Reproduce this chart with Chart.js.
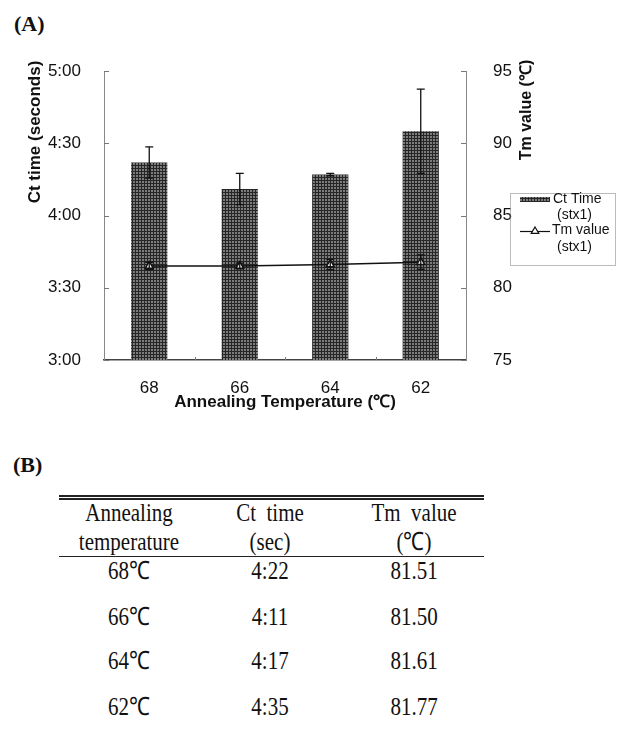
<!DOCTYPE html>
<html>
<head>
<meta charset="utf-8">
<script src="https://cdn.jsdelivr.net/npm/chart.js@4.4.1/dist/chart.umd.min.js"></script>
<style>
  body { margin: 0; background: #fff; width: 619px; height: 730px; position: relative; overflow: hidden; }
  .panel { position: absolute; font-family: "Liberation Serif", serif; font-weight: bold; font-size: 22px; color: #111; }
  #wrap { position: absolute; left: 0; top: 0; width: 619px; height: 420px; }
  .rule { position: absolute; left: 59px; width: 425px; background: #222; }
  .cell { position: absolute; font-family: "Liberation Serif", serif; font-size: 21px; color: #111;
          white-space: pre; line-height: 1; transform: translate(-50%, -50%) scaleY(1.2); }
</style>
</head>
<body>
<div class="panel" style="left:14px;top:11px">(A)</div>
<div id="wrap"><canvas id="c" width="619" height="420"></canvas></div>
<div class="panel" style="left:13px;top:452px">(B)</div>
<div id="table"></div>

<script>
// chart data
const temps = ["68", "66", "64", "62"];
const ctSeconds = [262, 251, 257, 275];
const ctErr = [6.5, 6.5, 0.5, 17.5];
const tmValues = [81.51, 81.50, 81.61, 81.77];
const tmErr = [0.25, 0.2, 0.35, 0.5];
const leftTicks = [180, 210, 240, 270, 300];
const rightTicks = [75, 80, 85, 90, 95];

// table text
const tableHead = [["Annealing", "temperature"], ["Ct  time", "(sec)"], ["Tm  value", "(℃)"]];
const tableTemps = ["68℃", "66℃", "64℃", "62℃"];

const mmss = s => Math.floor(s / 60) + ":" + String(Math.round(s % 60)).padStart(2, "0");
const SANS = "'Liberation Sans', Arial, sans-serif";

// table (B)
const tbl = document.getElementById("table");
const colX = [129, 270, 414];
const headY = [513, 542];
const rowY = [571, 617, 661, 707];
function cell(text, x, y) {
  const d = document.createElement("div");
  d.className = "cell";
  d.style.left = x + "px";
  d.style.top = y + "px";
  d.textContent = text;
  tbl.appendChild(d);
}
function rule(y, h) {
  const d = document.createElement("div");
  d.className = "rule";
  d.style.top = y + "px";
  d.style.height = h + "px";
  tbl.appendChild(d);
}
rule(494.5, 2);
rule(498, 1.5);
rule(555.5, 1);
tableHead.forEach((lines, c) => lines.forEach((t, r) => cell(t, colX[c], headY[r])));
tableTemps.forEach((t, i) => {
  cell(t, colX[0], rowY[i]);
  cell(mmss(ctSeconds[i]), colX[1], rowY[i]);
  cell(tmValues[i].toFixed(2), colX[2], rowY[i]);
});

// chart (A)
const ctx = document.getElementById("c").getContext("2d");

function barPattern() {
  const p = document.createElement("canvas");
  p.width = 3; p.height = 3;
  const g = p.getContext("2d");
  g.fillStyle = "#7c7c7c"; g.fillRect(0, 0, 3, 3);
  g.fillStyle = "#262626"; g.fillRect(0, 0, 3, 1); g.fillRect(0, 0, 1, 3);
  return ctx.createPattern(p, "repeat");
}
const pattern = barPattern();

const errorBars = {
  id: "errorBars",
  afterDatasetDraw(chart, args) {
    const ds = chart.data.datasets[args.index];
    if (!ds.errors) return;
    const yScale = chart.scales[ds.yAxisID];
    const c = chart.ctx;
    c.save();
    c.strokeStyle = "#111";
    c.lineWidth = 1.3;
    args.meta.data.forEach((el, j) => {
      const v = ds.data[j], e = ds.errors[j];
      const top = yScale.getPixelForValue(v + e);
      const bot = yScale.getPixelForValue(v - e);
      c.beginPath();
      c.moveTo(el.x, top); c.lineTo(el.x, bot);
      c.moveTo(el.x - 4, top); c.lineTo(el.x + 4, top);
      c.moveTo(el.x - 4, bot); c.lineTo(el.x + 4, bot);
      c.stroke();
    });
    c.restore();
  }
};

function triangle(c, x, y, r) {
  c.beginPath();
  c.moveTo(x, y - r);
  c.lineTo(x + r * 0.95, y + r * 0.6);
  c.lineTo(x - r * 0.95, y + r * 0.6);
  c.closePath();
  c.fill(); c.stroke();
}

const decorations = {
  id: "decorations",
  afterDraw(chart) {
    const { ctx: c, chartArea: a, scales } = chart;
    c.save();
    // small inward ticks
    c.strokeStyle = "#777";
    c.lineWidth = 1;
    c.beginPath();
    leftTicks.forEach(v => {
      const y = Math.round(scales.y.getPixelForValue(v)) + 0.5;
      c.moveTo(a.left, y); c.lineTo(a.left + 5, y);
    });
    rightTicks.forEach(v => {
      const y = Math.round(scales.y1.getPixelForValue(v)) + 0.5;
      c.moveTo(a.right - 5, y); c.lineTo(a.right, y);
    });
    for (let i = 1; i < temps.length; i++) {
      const x = Math.round((scales.x.getPixelForValue(i - 1) + scales.x.getPixelForValue(i)) / 2) + 0.5;
      c.moveTo(x, a.bottom); c.lineTo(x, a.bottom - 3);
    }
    c.stroke();

    // axis titles
    c.fillStyle = "#111";
    c.textAlign = "center";
    c.textBaseline = "middle";
    c.font = "bold 17px " + SANS;
    c.save(); c.translate(35, 132); c.rotate(-Math.PI / 2); c.fillText("Ct time (seconds)", 0, 0); c.restore();
    c.font = "bold 16px " + SANS;
    c.save(); c.translate(527, 110); c.rotate(-Math.PI / 2); c.fillText("Tm value (℃)", 0, 0); c.restore();

    // legend
    c.strokeStyle = "#777";
    c.setLineDash([1, 1]);
    c.strokeRect(510.5, 193.5, 105, 72);
    c.setLineDash([]);
    c.fillStyle = pattern;
    c.fillRect(520, 197, 30, 5);
    c.strokeStyle = "#111";
    c.lineWidth = 1.2;
    c.beginPath(); c.moveTo(520, 231.5); c.lineTo(550, 231.5); c.stroke();
    c.fillStyle = "#fff";
    triangle(c, 535, 231, 4);
    c.fillStyle = "#111";
    c.textAlign = "left";
    c.font = "14px " + SANS;
    c.fillText("Ct Time", 553, 199);
    c.fillText("(stx1)", 557, 215);
    c.fillText("Tm value", 552, 230);
    c.fillText("(stx1)", 557, 247);
    c.restore();
  }
};

new Chart(ctx, {
  data: {
    labels: temps,
    datasets: [
      {
        type: "line",
        label: "Tm value (stx1)",
        data: tmValues,
        errors: tmErr,
        yAxisID: "y1",
        order: 1,
        borderColor: "#111",
        borderWidth: 1.5,
        pointStyle: "triangle",
        pointRadius: 4.5,
        pointBackgroundColor: "#fff",
        pointBorderColor: "#111",
        pointBorderWidth: 1.5,
        tension: 0
      },
      {
        type: "bar",
        label: "Ct Time (stx1)",
        data: ctSeconds,
        errors: ctErr,
        yAxisID: "y",
        order: 2,
        backgroundColor: pattern,
        borderWidth: 0,
        categoryPercentage: 1,
        barPercentage: 0.4
      }
    ]
  },
  options: {
    responsive: false,
    animation: false,
    layout: { padding: { top: 71, right: 73, left: 0, bottom: 0 } },
    plugins: { legend: { display: false }, tooltip: { enabled: false } },
    scales: {
      x: {
        grid: { display: false },
        border: { color: "#444", width: 1.5 },
        ticks: { color: "#111", padding: 10, font: { family: SANS, size: 17 } },
        title: {
          display: true,
          text: "Annealing Temperature (℃)",
          color: "#111",
          padding: 7,
          font: { family: SANS, size: 17, weight: "bold" }
        },
        afterFit: s => { s.height = 60; }
      },
      y: {
        position: "left",
        min: 180,
        max: 300,
        grid: { display: false },
        border: { color: "#888", width: 1 },
        ticks: {
          stepSize: 30,
          padding: 15,
          color: "#111",
          font: { family: SANS, size: 17 },
          callback: v => mmss(v)
        },
        afterFit: s => { s.width = 104; }
      },
      y1: {
        position: "right",
        min: 75,
        max: 95,
        grid: { display: false },
        border: { color: "#888", width: 1 },
        ticks: { stepSize: 5, padding: 19, color: "#111", font: { family: SANS, size: 17 } },
        afterFit: s => { s.width = 80; }
      }
    }
  },
  plugins: [errorBars, decorations]
});
</script>
</body>
</html>
